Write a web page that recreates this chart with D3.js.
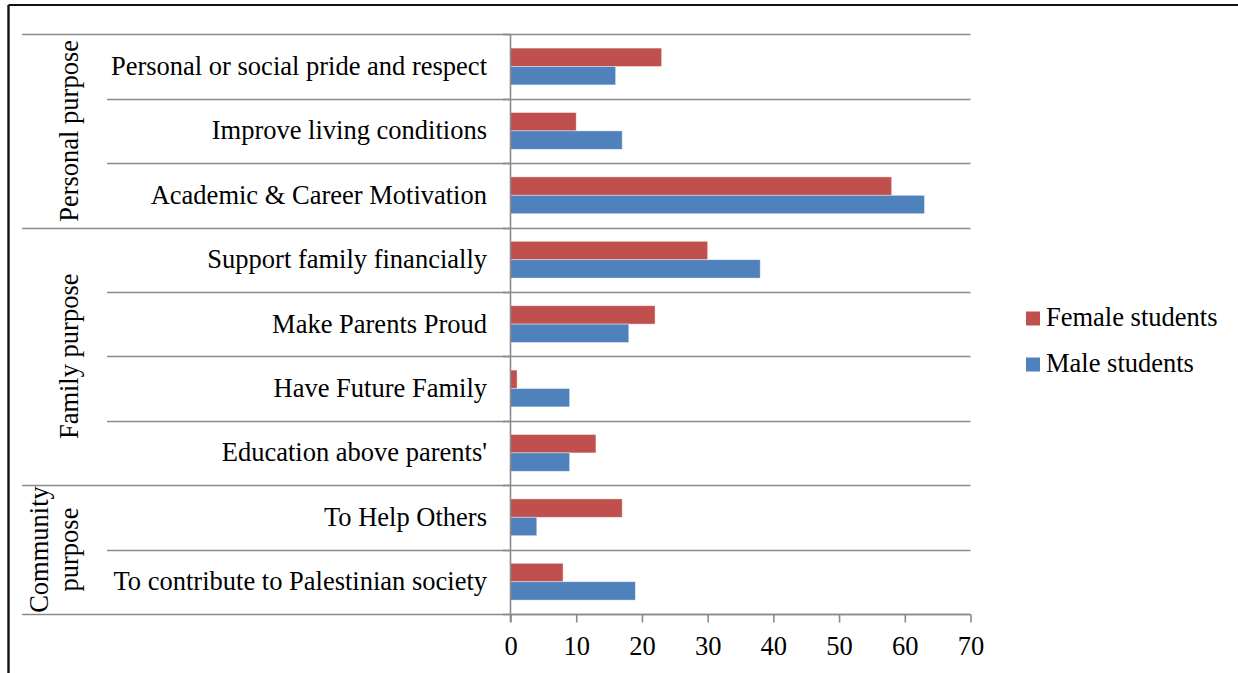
<!DOCTYPE html>
<html>
<head>
<meta charset="utf-8">
<script src="https://cdn.jsdelivr.net/npm/d3@7"></script>
<style>
  html, body { margin: 0; padding: 0; background: #fff; }
  svg { display: block; }
  text { font-family: "Liberation Serif", "Times New Roman", serif; fill: #000; }
</style>
</head>
<body>
<svg id="chart" width="1238" height="673"></svg>
<script>
// Motivations, grouped by purpose, listed top to bottom
const categories = [
  "Personal or social pride and respect",
  "Improve living conditions",
  "Academic & Career Motivation",
  "Support family financially",
  "Make Parents Proud",
  "Have Future Family",
  "Education above parents'",
  "To Help Others",
  "To contribute to Palestinian society"
];
const groups = [
  { lines: ["Personal purpose"], from: 0, to: 3 },
  { lines: ["Family purpose"], from: 3, to: 7 },
  { lines: ["Community", "purpose"], from: 7, to: 9 }
];
const seriesNames = ["Female students", "Male students"];
const femaleValues = [23, 10, 58, 30, 22, 1, 13, 17, 8];
const maleValues = [16, 17, 63, 38, 18, 9, 9, 4, 19];
const xTicks = [0, 10, 20, 30, 40, 50, 60, 70];
const colors = ["#C0504D", "#4F81BD"];

const svg = d3.select("#chart");
const FS = 26.5;
const gridColor = "#8a8a8a";

// Outer frame (top and left edges)
svg.append("line").attr("x1", 8.5).attr("x2", 1238).attr("y1", 5).attr("y2", 5)
  .attr("stroke", "#111").attr("stroke-width", 2.2);
svg.append("line").attr("x1", 8.5).attr("x2", 8.5).attr("y1", 5).attr("y2", 673)
  .attr("stroke", "#111").attr("stroke-width", 2.4);

const plotLeft = 510.5, plotRight = 970.5, plotTop = 34.3, plotBottom = 613.9;

const x = d3.scaleLinear().domain([0, 70]).range([plotLeft, plotRight]);
const y = d3.scaleBand().domain(categories).range([plotTop, plotBottom]).padding(0);
const ySub = d3.scaleBand().domain(seriesNames).range([0, y.bandwidth()])
  .paddingInner(0).paddingOuter(0.75);

// Horizontal separators: group boundaries reach further left than row boundaries
const boundaries = d3.range(categories.length + 1);
const groupEdges = new Set(groups.flatMap(g => [g.from, g.to]));
const yEdge = i => plotTop + i * y.step();
svg.append("g").selectAll("line").data(boundaries).join("line")
  .attr("x1", i => groupEdges.has(i) ? 22 : 107)
  .attr("x2", plotRight)
  .attr("y1", i => Math.round(yEdge(i)) + 0.5)
  .attr("y2", i => Math.round(yEdge(i)) + 0.5)
  .attr("stroke", gridColor).attr("stroke-width", 1.6);

// Category-axis tick marks on the left of the axis line
svg.append("g").selectAll("line").data(boundaries).join("line")
  .attr("x1", plotLeft - 8).attr("x2", plotLeft)
  .attr("y1", i => Math.round(yEdge(i)) + 0.5)
  .attr("y2", i => Math.round(yEdge(i)) + 0.5)
  .attr("stroke", gridColor).attr("stroke-width", 1.6);

// Bars
const seriesData = seriesNames.map((name, si) => ({
  name, color: colors[si], values: si === 0 ? femaleValues : maleValues
}));
const barG = svg.append("g");
seriesData.forEach(s => {
  barG.selectAll(null).data(categories).join("rect")
    .attr("x", x(0))
    .attr("y", c => y(c) + ySub(s.name))
    .attr("width", (c, i) => x(s.values[categories.indexOf(c)]) - x(0))
    .attr("height", ySub.bandwidth())
    .attr("fill", s.color)
    .attr("stroke", "#ffffff").attr("stroke-opacity", 0.5).attr("stroke-width", 0.8);
});

// Value axis at the bottom
const xAxis = d3.axisBottom(x).tickValues(xTicks).tickSize(8).tickPadding(10)
  .tickFormat(d3.format("d"));
const xg = svg.append("g").attr("transform", `translate(0,${Math.round(plotBottom) + 0.5})`).call(xAxis);
xg.select(".domain").attr("stroke", gridColor).attr("stroke-width", 1.6)
  .attr("d", `M${plotLeft},0H${plotRight}`);
xg.selectAll(".tick line").attr("stroke", gridColor).attr("stroke-width", 1.6);
xg.selectAll(".tick text").attr("font-size", FS).attr("font-family", "Liberation Serif")
  .attr("fill", "#000").attr("dy", null).attr("y", 40);

// Vertical category axis line
svg.append("line").attr("x1", plotLeft).attr("x2", plotLeft)
  .attr("y1", plotTop).attr("y2", plotBottom + 8)
  .attr("stroke", gridColor).attr("stroke-width", 1.6);

// Category labels
svg.append("g").selectAll("text").data(categories).join("text")
  .attr("x", 487)
  .attr("y", c => y(c) + y.bandwidth() / 2 + 8.5)
  .attr("text-anchor", "end")
  .attr("font-size", FS)
  .text(c => c);

// Group labels, rotated
groups.forEach(g => {
  const cy = (yEdge(g.from) + yEdge(g.to)) / 2;
  const n = g.lines.length;
  const lineGap = 30;
  g.lines.forEach((line, li) => {
    const bx = n === 1 ? 78 : 47.5 + li * lineGap;
    svg.append("text")
      .attr("transform", `translate(${bx},${cy}) rotate(-90)`)
      .attr("text-anchor", "middle")
      .attr("font-size", FS)
      .text(line);
  });
});

// Legend
const legend = svg.append("g");
seriesData.forEach((s, i) => {
  const ly = 326 + i * 46;
  legend.append("rect").attr("x", 1026).attr("y", ly - 14.5)
    .attr("width", 14).attr("height", 14).attr("fill", s.color);
  legend.append("text").attr("x", 1046).attr("y", ly)
    .attr("font-size", FS).text(s.name);
});
</script>
</body>
</html>
